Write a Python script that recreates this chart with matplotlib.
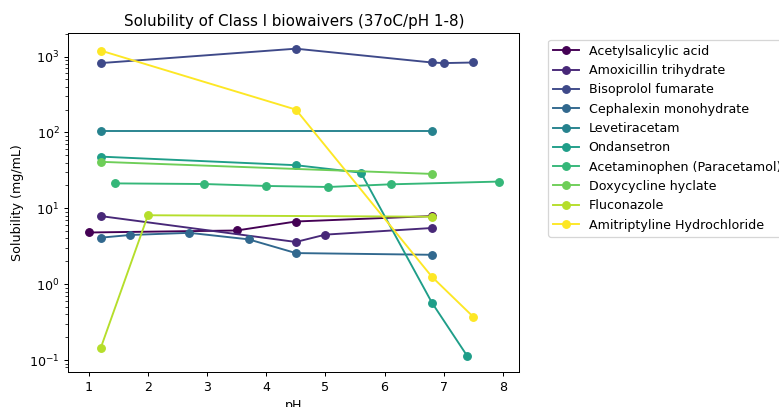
import numpy as np
import matplotlib
matplotlib.use("Agg")
import matplotlib.pyplot as plt

# Solubility (mg/mL) measured at several pH values for each drug
drugs = [
    "Acetylsalicylic acid",
    "Amoxicillin trihydrate",
    "Bisoprolol fumarate",
    "Cephalexin monohydrate",
    "Levetiracetam",
    "Ondansetron",
    "Acetaminophen (Paracetamol)",
    "Doxycycline hyclate",
    "Fluconazole",
    "Amitriptyline Hydrochloride",
]

ph_acetylsalicylic = [1.0, 3.5, 4.5, 6.8]
sol_acetylsalicylic = [4.8, 5.1, 6.7, 7.9]

ph_amoxicillin = [1.2, 4.5, 5.0, 6.8]
sol_amoxicillin = [7.9, 3.6, 4.5, 5.5]

ph_bisoprolol = [1.2, 4.5, 6.8, 7.0, 7.5]
sol_bisoprolol = [820, 1270, 835, 820, 835]

ph_cephalexin = [1.2, 1.7, 2.7, 3.7, 4.5, 6.8]
sol_cephalexin = [4.1, 4.45, 4.75, 3.9, 2.57, 2.44]

ph_levetiracetam = [1.2, 6.8]
sol_levetiracetam = [105, 105]

ph_ondansetron = [1.2, 4.5, 5.6, 6.8, 7.4]
sol_ondansetron = [48, 37, 29.5, 0.57, 0.112]

ph_acetaminophen = [1.45, 2.95, 4.0, 5.05, 6.1, 7.93]
sol_acetaminophen = [21.3, 20.9, 19.7, 19.1, 20.7, 22.5]

ph_doxycycline = [1.2, 6.8]
sol_doxycycline = [41, 28.4]

ph_fluconazole = [1.2, 2.0, 6.8]
sol_fluconazole = [0.143, 8.1, 7.75]

ph_amitriptyline = [1.2, 4.5, 6.8, 7.5]
sol_amitriptyline = [1200, 200, 1.25, 0.37]

series = [
    (ph_acetylsalicylic, sol_acetylsalicylic),
    (ph_amoxicillin, sol_amoxicillin),
    (ph_bisoprolol, sol_bisoprolol),
    (ph_cephalexin, sol_cephalexin),
    (ph_levetiracetam, sol_levetiracetam),
    (ph_ondansetron, sol_ondansetron),
    (ph_acetaminophen, sol_acetaminophen),
    (ph_doxycycline, sol_doxycycline),
    (ph_fluconazole, sol_fluconazole),
    (ph_amitriptyline, sol_amitriptyline),
]

colors = plt.cm.viridis(np.linspace(0, 1, len(drugs)))

DPI = 91
W, H = 779, 407
fig = plt.figure(figsize=(W / DPI, H / DPI), dpi=DPI)
ax = fig.add_axes([68.3 / W, 1 - 371.7 / H, (519.3 - 68.3) / W, (371.7 - 33.3) / H])

for name, (ph, sol), c in zip(drugs, series, colors):
    ax.plot(ph, sol, marker="o", color=c, label=name)

ax.set_yscale("log")
ax.set_xlabel("pH")
ax.set_ylabel("Solubility (mg/mL)")
ax.set_title("Solubility of Class I biowaivers (37oC/pH 1-8)")
ax.legend(loc="upper left", bbox_to_anchor=(1.05, 1))

fig.savefig("out.png", dpi=DPI)
